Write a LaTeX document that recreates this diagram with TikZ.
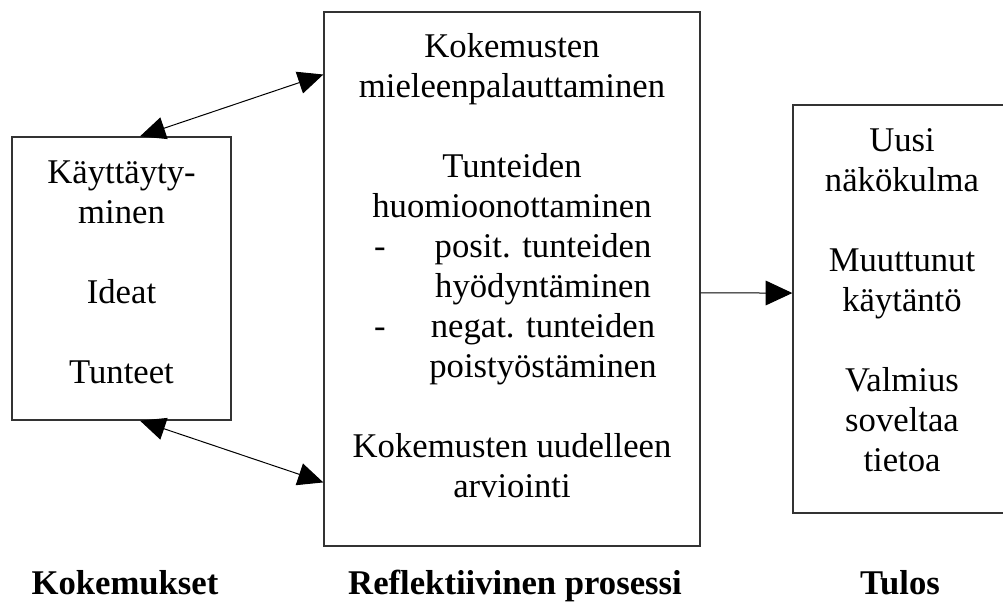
\documentclass[tikz,border=0pt]{standalone}
\usepackage{fontspec}
\setmainfont{Liberation Serif}
\usetikzlibrary{arrows.meta,calc}

\begin{document}
\begin{tikzpicture}[x=0.75pt,y=0.75pt,yscale=-1,xscale=1,
  box/.style={draw=black!80,line width=1pt,inner sep=0pt},
  txt/.style={align=center,inner sep=0pt,font=\fontsize{26}{30}\selectfont},
  head/.style={anchor=base,inner sep=0pt,font=\fontsize{26}{30}\selectfont\bfseries},
  link/.style={line width=0.75pt,{Triangle[length=19pt,width=17pt]}-{Triangle[length=19pt,width=17pt]}},
  flow/.style={line width=0.75pt,-{Triangle[length=20pt,width=18.5pt]}}]
\useasboundingbox (0,0) rectangle (1003,604);

%Shape: Rectangle
\node[box,minimum width=164.25pt,minimum height=212.25pt] (kok) at (121.5,278.5) {};
%Shape: Rectangle
\node[box,minimum width=282pt,minimum height=400.5pt] (refl) at (512,279) {};
%Shape: Rectangle
\node[box,minimum width=163.5pt,minimum height=306pt] (tulos) at (902,309) {};

% Text Node
\node[txt,anchor=north] (kokt) at (121.5,155) {\strut Käyttäyty-\\minen\\[30pt]Ideat\\[30pt]Tunteet};
% Text Node
\node[txt,anchor=north] (mieli) at (512,29) {\strut Kokemusten\\mieleenpalauttaminen};
\node[txt,anchor=north] (tunne) at (512,149) {\strut Tunteiden\\huomioonottaminen};
\node[txt,anchor=base] (viiva1) at (380,257) {-};
\node[txt,anchor=north] (posit) at (543,229) {\strut posit. tunteiden\\hyödyntäminen};
\node[txt,anchor=base] (viiva2) at (380,337) {-};
\node[txt,anchor=north] (negat) at (543,309) {\strut negat. tunteiden\\poistyöstäminen};
\node[txt,anchor=north] (arvio) at (512,429) {\strut Kokemusten uudelleen\\arviointi};
% Text Node
\node[txt,anchor=north] (tulost) at (902,123) {\strut Uusi\\näkökulma\\[30pt]Muuttunut\\käytäntö\\[30pt]Valmius\\soveltaa\\tietoa};

% Text Node
\node[head] (kokl) at (125,594) {Kokemukset};
\node[head] (refll) at (515,594) {Reflektiivinen prosessi};
\node[head] (tulosl) at (900,594) {Tulos};

%Straight Lines
\draw[link] ($(kok.north west)!0.584!(kok.north east)$) -- ($(refl.north west)!0.118!(refl.south west)$);
%Straight Lines
\draw[link] ($(kok.south west)!0.584!(kok.south east)$) -- ($(refl.north west)!0.880!(refl.south west)$);
%Straight Lines
\draw[flow] ($(refl.north east)!0.526!(refl.south east)$) -- ($(tulos.north west)!0.461!(tulos.south west)$);

\end{tikzpicture}
\end{document}
